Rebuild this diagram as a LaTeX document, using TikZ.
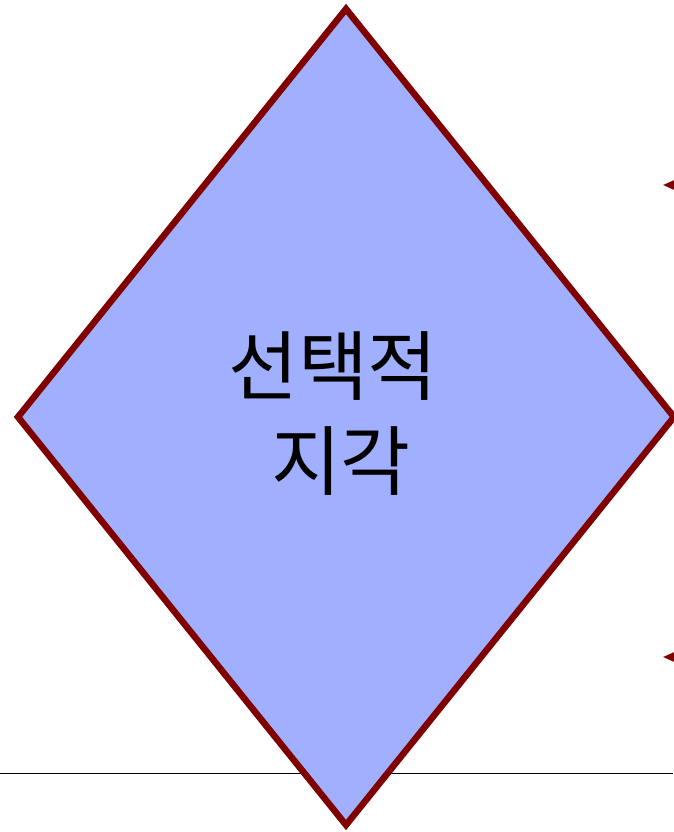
\documentclass[tikz,border=0pt]{standalone}
\usepackage{fontspec}
\newfontfamily\krfont{Noto Sans CJK KR}
\usetikzlibrary{arrows.meta}
\definecolor{rimred}{HTML}{800000}
\definecolor{fillblue}{HTML}{A0B0FF}
\begin{document}
\begin{tikzpicture}[x=1pt, y=1pt,
    rim/.style={
        draw=rimred,
        line width=6.5pt,
        fill=fillblue,
        line join=miter
    },
    label/.style={
        font=\krfont\fontsize{76}{95}\selectfont,
        align=center,
        inner sep=0pt
    },
    pointer/.style={
        draw=rimred,
        line width=2pt,
        -{Triangle[length=12pt, width=10pt]}
    }
]
\useasboundingbox (0,0) rectangle (673,-832);

% --- Base line ---
\coordinate (l0) at (0,-773);
\coordinate (l1) at (673,-773);
\draw[line width=1pt] (l0) -- (l1);

% --- Diamond ---
\coordinate (top) at (346,-9);
\coordinate (rgt) at (674,-417);
\coordinate (bot) at (346,-825);
\coordinate (lft) at (18,-417);
\path[rim] (top) -- (rgt) -- (bot) -- (lft) -- cycle;

\node[label] (txt) at (333,-414) {선택적\\\hspace*{0.21em}지각};

% --- Pointers from the right ---
\coordinate (p0) at (740,-185);
\coordinate (q0) at (663,-185);
\coordinate (p1) at (740,-657);
\coordinate (q1) at (663,-657);
\draw[pointer] (p0) -- (q0);
\draw[pointer] (p1) -- (q1);

\end{tikzpicture}
\end{document}
